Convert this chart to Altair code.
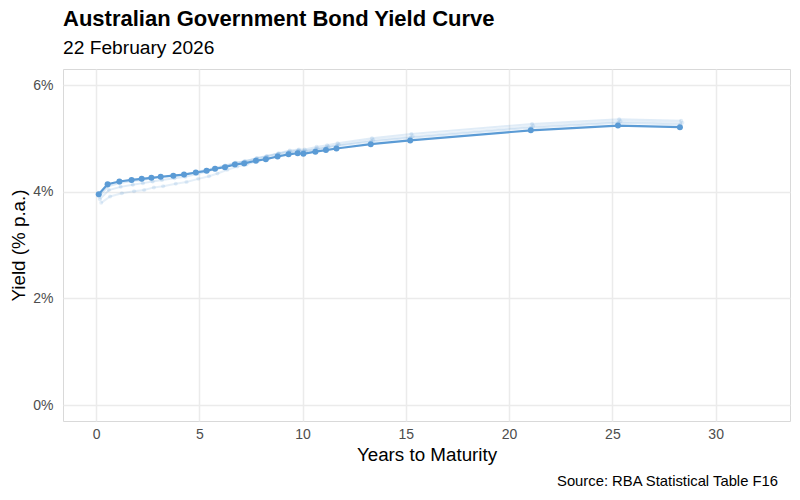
import altair as alt
import pandas as pd

TITLE = "Australian Government Bond Yield Curve"
SUBTITLE = "22 February 2026"
CAPTION = "Source: RBA Statistical Table F16"
FONT = "Liberation Sans"
BLUE = "#5b9bd5"

# years to maturity of each bond line on the curve
MAT_NOW = [0.13, 0.56, 1.13, 1.72, 2.21, 2.68, 3.13, 3.74, 4.26, 4.83, 5.35, 5.76, 6.24, 6.72, 7.17,
           7.74, 8.22, 8.79, 9.32, 9.76, 10.04, 10.62, 11.13, 11.64, 13.30, 15.21, 21.05, 25.27, 28.27]
MAT_PRIOR_A = [0.25, 0.68, 1.25, 1.84, 2.33, 2.80, 3.25, 3.86, 4.38, 4.95, 5.47, 5.88, 6.36, 6.84, 7.29,
               7.86, 8.34, 8.91, 9.44, 9.88, 10.16, 10.74, 11.25, 11.76, 13.42, 15.33, 21.17, 25.39, 28.39]
MAT_PRIOR_B = [0.19, 0.62, 1.19, 1.78, 2.27, 2.74, 3.19, 3.80, 4.32, 4.89, 5.41, 5.82, 6.30, 6.78, 7.23,
               7.80, 8.28, 8.85, 9.38, 9.82, 10.10, 10.68, 11.19, 11.70, 13.36, 15.27, 21.11, 25.33, 28.33]
MAT_PRIOR_C = [0.15, 0.58, 1.15, 1.74, 2.23, 2.70, 3.15, 3.76, 4.28, 4.85, 5.37, 5.78, 6.26, 6.74, 7.19,
               7.76, 8.24, 8.81, 9.34, 9.78, 10.06, 10.64, 11.15, 11.66, 13.32, 15.23, 21.07, 25.29, 28.29]

# yields, % p.a.
YLD_NOW = [3.95, 4.14, 4.19, 4.22, 4.24, 4.26, 4.28, 4.30, 4.32, 4.36, 4.39, 4.43, 4.46, 4.51, 4.53,
           4.58, 4.61, 4.66, 4.70, 4.72, 4.71, 4.75, 4.78, 4.81, 4.89, 4.96, 5.15, 5.24, 5.21]
YLD_PRIOR_A = [3.79, 3.91, 3.97, 4.01, 4.03, 4.08, 4.10, 4.15, 4.18, 4.24, 4.29, 4.34, 4.41, 4.47, 4.51,
               4.58, 4.62, 4.68, 4.73, 4.76, 4.76, 4.80, 4.84, 4.88, 4.97, 5.04, 5.23, 5.32, 5.29]
YLD_PRIOR_B = [3.86, 4.03, 4.09, 4.13, 4.16, 4.19, 4.22, 4.25, 4.28, 4.33, 4.38, 4.43, 4.48, 4.54, 4.57,
               4.63, 4.67, 4.72, 4.77, 4.79, 4.79, 4.84, 4.87, 4.91, 5.00, 5.08, 5.27, 5.36, 5.33]
YLD_PRIOR_C = [3.91, 4.10, 4.16, 4.20, 4.22, 4.25, 4.27, 4.30, 4.32, 4.37, 4.41, 4.45, 4.49, 4.54, 4.57,
               4.62, 4.66, 4.71, 4.75, 4.77, 4.76, 4.80, 4.83, 4.86, 4.94, 5.01, 5.20, 5.29, 5.26]

PRIOR_NAMES = ["prior_a", "prior_b", "prior_c"]
PRIOR_ALPHA = [0.16, 0.22, 0.3]

rows = []
for name, mats, ylds in [
    ("prior_a", MAT_PRIOR_A, YLD_PRIOR_A),
    ("prior_b", MAT_PRIOR_B, YLD_PRIOR_B),
    ("prior_c", MAT_PRIOR_C, YLD_PRIOR_C),
    ("current", MAT_NOW, YLD_NOW),
]:
    for m, y in zip(mats, ylds):
        rows.append({"series": name, "maturity": m, "yield": y})
df = pd.DataFrame(rows)

x_scale = alt.Scale(domain=[-1.6, 33.6], nice=False, zero=False)
y_scale = alt.Scale(domain=[-0.3, 6.3], nice=False, zero=False)

base = alt.Chart(df).encode(
    x=alt.X("maturity:Q", scale=x_scale, title="Years to Maturity",
            axis=alt.Axis(values=[0, 5, 10, 15, 20, 25, 30])),
    y=alt.Y("yield:Q", scale=y_scale, title="Yield (% p.a.)",
            axis=alt.Axis(values=[0, 2, 4, 6], labelExpr="datum.value + '%'")),
)

fade = alt.Opacity("series:N", scale=alt.Scale(domain=PRIOR_NAMES, range=PRIOR_ALPHA), legend=None)

prior = base.transform_filter("datum.series != 'current'")
prior_lines = prior.mark_line(color=BLUE, strokeWidth=2).encode(detail="series:N", opacity=fade)
prior_points = prior.mark_circle(color=BLUE, size=16).encode(opacity=fade)

current = base.transform_filter("datum.series == 'current'")
cur_line = current.mark_line(color=BLUE, strokeWidth=2.2)
cur_points = current.mark_circle(color=BLUE, size=36, opacity=1)

caption = alt.Chart(pd.DataFrame({"text": [CAPTION]})).mark_text(
    align="right", baseline="alphabetic", font=FONT, fontSize=14.8, color="black"
).encode(
    x=alt.value(715), y=alt.value(417), text="text:N"
)

chart = alt.layer(
    prior_lines, prior_points, cur_line, cur_points, caption
).properties(
    width=727,
    height=352,
    autosize=alt.AutoSizeParams(type="none"),
    padding={"left": 55, "top": 61, "right": 2, "bottom": 71},
    title=alt.TitleParams(
        text=TITLE, subtitle=SUBTITLE, anchor="start", frame="group",
        font=FONT, fontSize=22, fontWeight="bold", color="black",
        subtitleFont=FONT, subtitleFontSize=19.2, subtitleColor="black",
        subtitlePadding=8, offset=10,
    ),
).configure_view(
    stroke="#d9d9d9", strokeWidth=1
).configure_axis(
    grid=True, gridColor="#ebebeb", gridWidth=1.5, domain=False, ticks=False,
    labelFont=FONT, labelFontSize=14, labelColor="#4d4d4d",
    titleFont=FONT, titleFontSize=18.8, titleColor="black", titleFontWeight="normal",
).configure_axisX(
    labelPadding=6, titlePadding=4
).configure_axisY(
    labelPadding=10, titlePadding=4
)

chart.save("out.html", embed_options={"renderer": "svg", "actions": False})
